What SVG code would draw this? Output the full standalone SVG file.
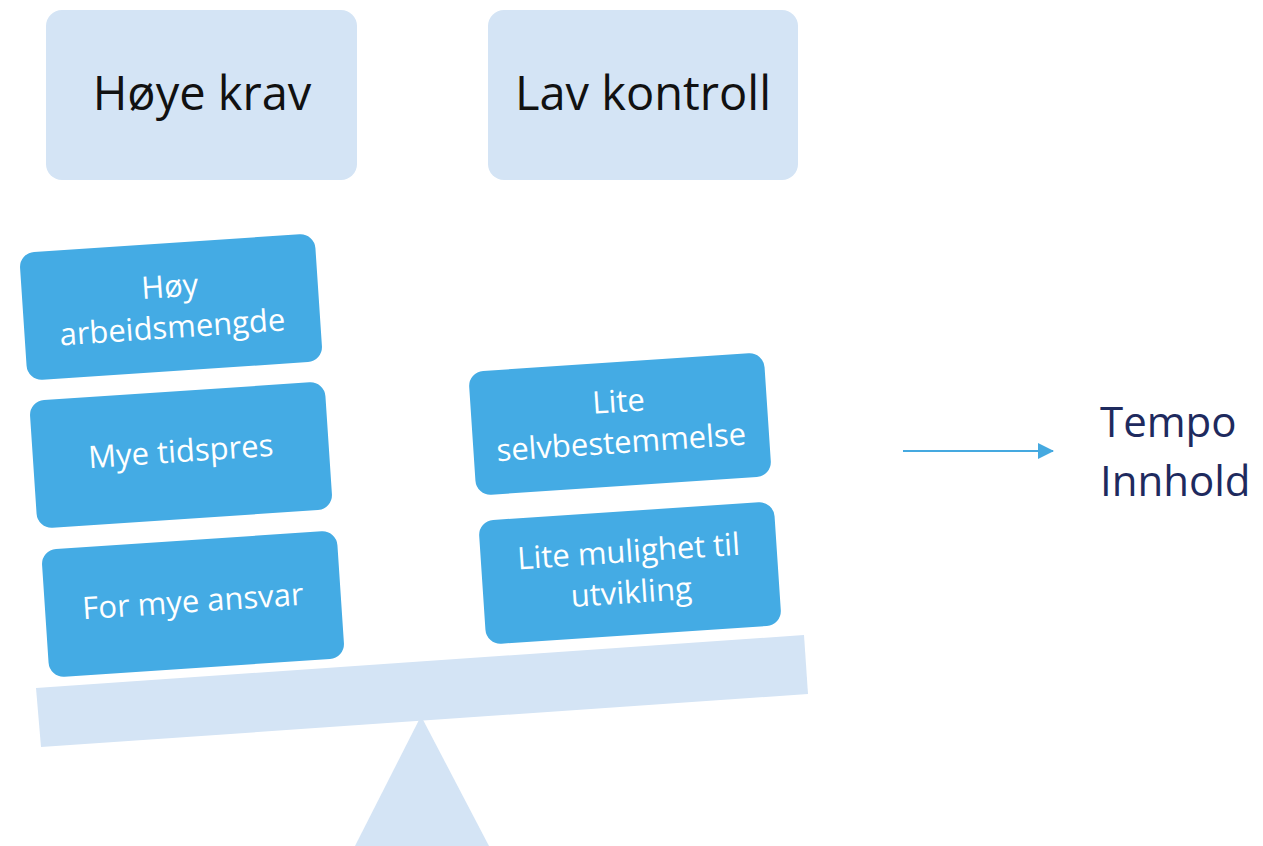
<svg xmlns="http://www.w3.org/2000/svg" width="1263" height="846" viewBox="0 0 1263 846">
  <style>
    .head { fill: #d4e4f5; }
    .head-text { font-family: "Open Sans", "Liberation Sans", sans-serif; font-size: 47px; fill: #111111; text-anchor: middle; }
    .card { fill: #44abe4; }
    .card-text { font-family: "Open Sans", "Liberation Sans", sans-serif; font-size: 31px; fill: #ffffff; text-anchor: middle; }
    .seesaw { fill: #d4e4f5; }
    .side-text { font-family: "Open Sans", "Liberation Sans", sans-serif; font-size: 42px; fill: #1e2a5e; }
    .link { stroke: #45a9e0; stroke-width: 2; fill: none; }
  </style>
  <defs>
    <marker id="arrowhead" viewBox="0 0 16 16" refX="15" refY="8" markerWidth="16" markerHeight="16" markerUnits="userSpaceOnUse" orient="auto">
      <path d="M0,0 L16,8 L0,16 z" fill="#45a9e0"/>
    </marker>
  </defs>
  <rect width="1263" height="846" fill="#ffffff"/>

  <!-- headings -->
  <g id="hoye-krav">
    <rect class="head" x="46" y="10" width="311" height="170" rx="16"/>
    <text class="head-text" x="202" y="110">Høye krav</text>
  </g>
  <g id="lav-kontroll">
    <rect class="head" x="488" y="10" width="310" height="170" rx="16"/>
    <text class="head-text" x="643" y="110">Lav kontroll</text>
  </g>

  <!-- seesaw -->
  <g id="fulcrum">
    <polygon class="seesaw" points="421,716 489,846 355,846"/>
  </g>
  <g id="beam">
    <polygon class="seesaw" points="36,688 804,635 808,694 41,747"/>
  </g>

  <!-- demand cards (left pan) -->
  <g id="hoy-arbeidsmengde" transform="translate(171,307) rotate(-3.8)">
    <rect class="card" x="-148" y="-64" width="296" height="128" rx="15"/>
    <text class="card-text" x="0" y="-10">Høy</text>
    <text class="card-text" x="0" y="31">arbeidsmengde</text>
  </g>
  <g id="mye-tidspres" transform="translate(181,455) rotate(-3.8)">
    <rect class="card" x="-148" y="-64" width="296" height="128" rx="15"/>
    <text class="card-text" x="0" y="7">Mye tidspres</text>
  </g>
  <g id="for-mye-ansvar" transform="translate(193,604) rotate(-3.8)">
    <rect class="card" x="-148" y="-64" width="296" height="128" rx="15"/>
    <text class="card-text" x="0" y="8">For mye ansvar</text>
  </g>

  <!-- control cards (right pan) -->
  <g id="lite-selvbestemmelse" transform="translate(620,424) rotate(-3.8)">
    <rect class="card" x="-148" y="-62" width="296" height="124" rx="15"/>
    <text class="card-text" x="0" y="-12">Lite</text>
    <text class="card-text" x="0" y="29">selvbestemmelse</text>
  </g>
  <g id="lite-mulighet" transform="translate(630,573) rotate(-3.8)">
    <rect class="card" x="-148" y="-62" width="296" height="124" rx="15"/>
    <text class="card-text" x="0" y="-11">Lite mulighet til</text>
    <text class="card-text" x="0" y="30">utvikling</text>
  </g>

  <!-- outcome label -->
  <g id="tempo-innhold">
    <text class="side-text" x="1100" y="437">Tempo</text>
    <text class="side-text" x="1100" y="496">Innhold</text>
  </g>

  <g id="connectors">
    <line class="link" x1="903" y1="451" x2="1053" y2="451" marker-end="url(#arrowhead)"/>
  </g>
</svg>
